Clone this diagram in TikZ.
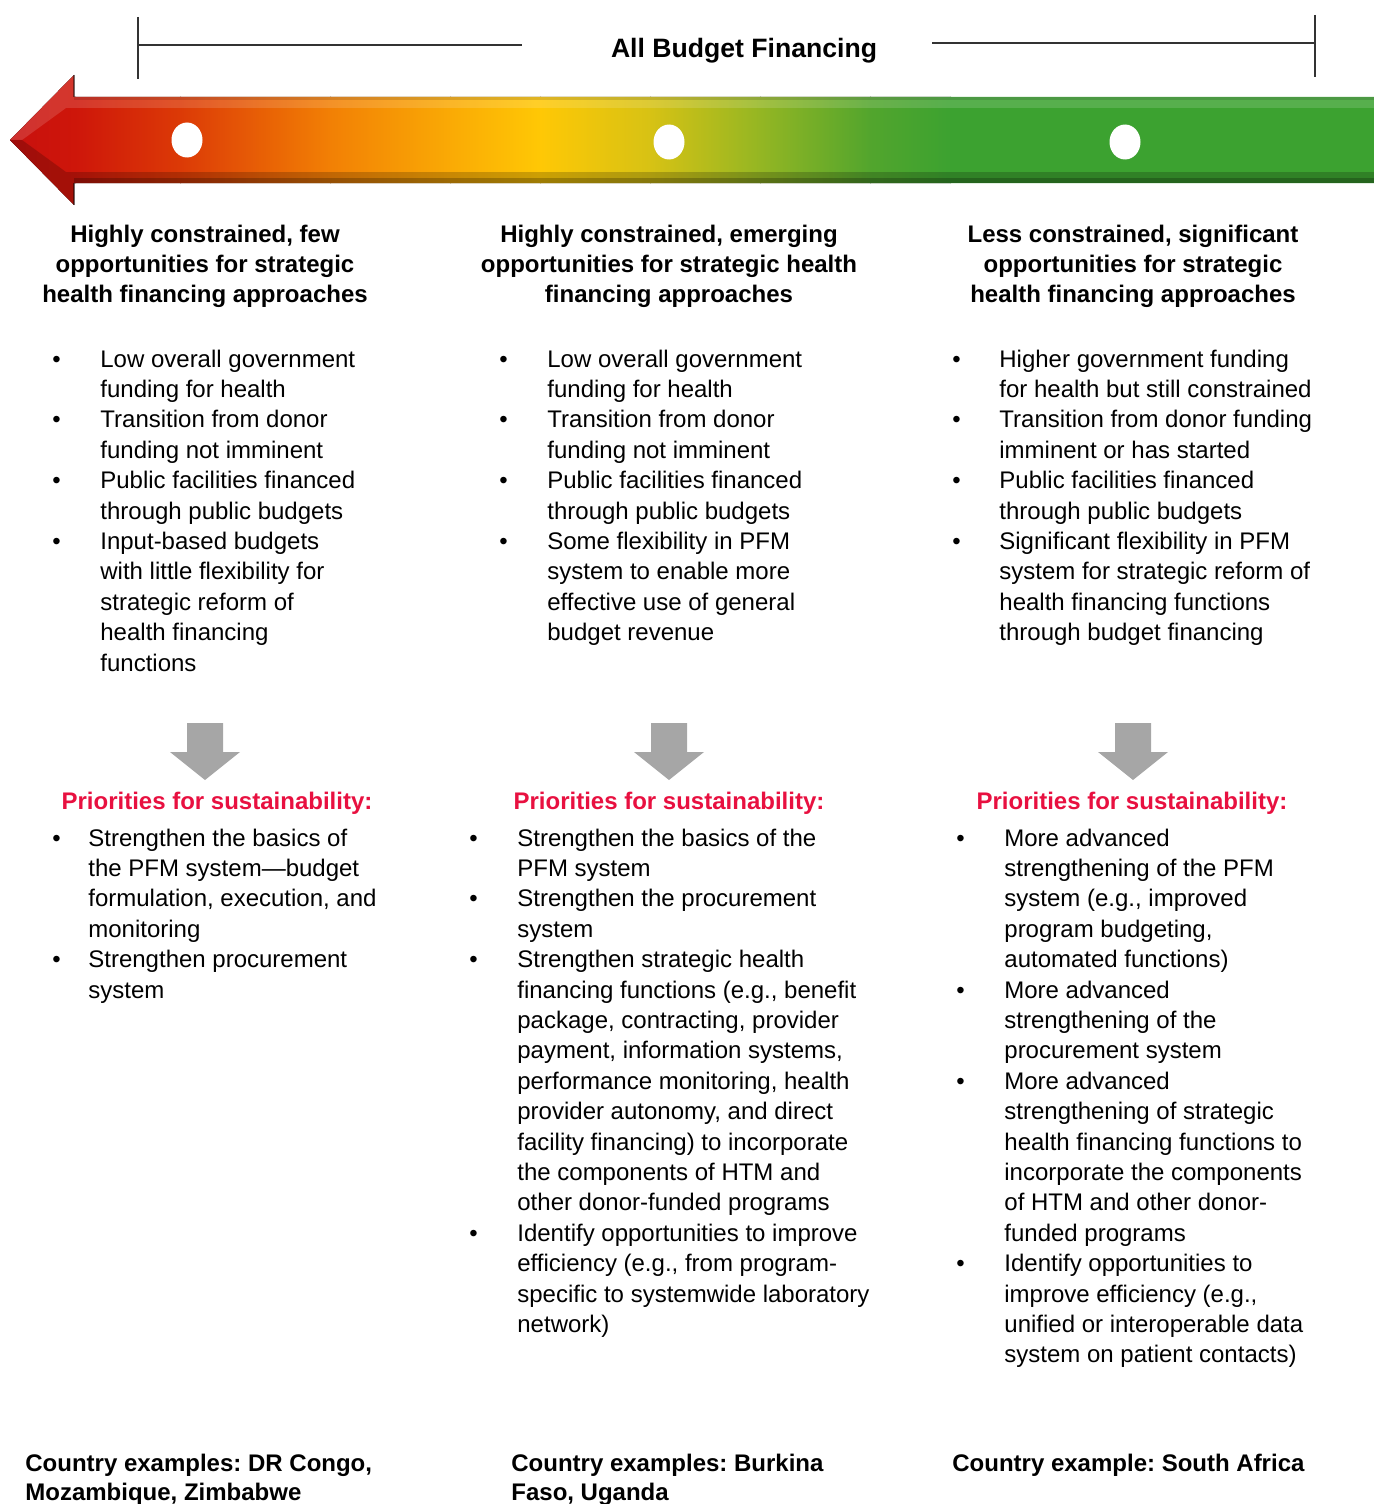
\documentclass[tikz,border=0pt]{standalone}
\usepackage{fontspec}
\setmainfont{Liberation Sans}
\usepackage{array}

% colours of the shaded arrow, left (red) to right (green)
\definecolor{c0}{RGB}{200,16,14}
\definecolor{c1}{RGB}{206,22,10}
\definecolor{c2}{RGB}{220,58,6}
\definecolor{c3}{RGB}{242,128,5}
\definecolor{c4}{RGB}{250,170,5}
\definecolor{c5}{RGB}{255,200,5}
\definecolor{c6}{RGB}{215,194,20}
\definecolor{c7}{RGB}{148,182,35}
\definecolor{c8}{RGB}{82,165,45}
\definecolor{c9}{RGB}{60,162,48}
\definecolor{prired}{RGB}{232,16,64}
\definecolor{arrgray}{RGB}{166,166,166}

\newcommand{\bl}{\textbullet}
\newcommand{\ctext}[1]{\begin{tabular}[t]{@{}c@{}}#1\end{tabular}}
\newcommand{\ltext}[1]{\begin{tabular}[t]{@{}l@{}}#1\end{tabular}}
\newcommand{\blist}[2]{\begin{tabular}[t]{@{}p{#1}@{}l@{}}#2\end{tabular}}

\tikzset{
  head/.style={anchor=base, inner sep=0pt, font=\fontsize{12}{15.2}\selectfont\bfseries},
  prio/.style={head, text=prired},
  items/.style={anchor=base west, inner sep=0pt, font=\fontsize{12}{15.2}\selectfont},
  country/.style={items, font=\fontsize{12}{14.5}\selectfont\bfseries},
  bracket/.style={line width=0.75pt, black!80},
  downarrow/.style={fill=arrgray},
  dot/.style={fill=white},
}

\begin{document}
\frenchspacing
\begin{tikzpicture}[x=0.5pt, y=-0.5pt]
\useasboundingbox (0,0) rectangle (1374,1504);

% Title and bracket
\node[font=\fontsize{13.3}{16}\selectfont\bfseries, anchor=base, inner sep=0pt] (title) at (744,58) {All Budget Financing};
\coordinate (ltop) at (138,17);
\coordinate (lbot) at (138,79);
\coordinate (lbar) at (139,45);
\coordinate (lgap) at (522,45);
\coordinate (rgap) at (932,43);
\coordinate (rbar) at (1315,43);
\coordinate (rtop) at (1315,15);
\coordinate (rbot) at (1315,77);
\draw[bracket] (ltop) -- (lbot);
\draw[bracket] (lbar) -- (lgap);
\draw[bracket] (rgap) -- (rbar);
\draw[bracket] (rtop) -- (rbot);

% Big arrow, shaded in pieces
\begin{scope}
\clip (10,140) -- (74,75) -- (74,97) -- (1374,97) -- (1374,183) -- (74,183) -- (74,205) -- cycle;
\fill[left color=c0, right color=c1] (9,70) rectangle (76,210);
\fill[left color=c1, right color=c2] (75,70) rectangle (181,210);
\fill[left color=c2, right color=c3] (180,70) rectangle (331,210);
\fill[left color=c3, right color=c4] (330,70) rectangle (451,210);
\fill[left color=c4, right color=c5] (450,70) rectangle (541,210);
\fill[left color=c5, right color=c6] (540,70) rectangle (651,210);
\fill[left color=c6, right color=c7] (650,70) rectangle (761,210);
\fill[left color=c7, right color=c8] (760,70) rectangle (871,210);
\fill[left color=c8, right color=c9] (870,70) rectangle (951,210);
\fill[c9] (950,70) rectangle (1375,210);
\end{scope}

% Bevel: light upper edge, dark lower edge
\fill[white, opacity=.14] (10,140) -- (74,75) -- (74,97) -- (1374,97) -- (1374,108) -- (66,108) -- (22,140) -- cycle;
\fill[black, opacity=.12] (74,97) -- (1374,97) -- (1374,100) -- (74,100) -- cycle;
\fill[black, opacity=.2] (10,140) -- (74,205) -- (74,183) -- (1374,183) -- (1374,172) -- (66,172) -- (22,140) -- cycle;
\fill[black, opacity=.22] (74,178) -- (1374,178) -- (1374,183) -- (74,183) -- cycle;
\draw[black, opacity=.45, line width=1pt] (74,75) -- (74,97);
\draw[black, opacity=.45, line width=1pt] (74,183) -- (74,205);

% Dots on the arrow
\fill[dot] (187,140) ellipse (7.75pt and 8.75pt);
\fill[dot] (669,142) ellipse (7.75pt and 8.75pt);
\fill[dot] (1125,142) ellipse (7.75pt and 8.75pt);

% Column headers
\node[head] (h1) at (205,242) {\ctext{Highly constrained, few\\opportunities for strategic\\health financing approaches}};
\node[head] (h2) at (669,242) {\ctext{Highly constrained, emerging\\opportunities for strategic health\\financing approaches}};
\node[head] (h3) at (1133,242) {\ctext{Less constrained, significant\\opportunities for strategic\\health financing approaches}};

% Situation lists
\node[items] (s1) at (52,367) {\blist{24pt}{%
\bl & Low overall government\\
    & funding for health\\
\bl & Transition from donor\\
    & funding not imminent\\
\bl & Public facilities financed\\
    & through public budgets\\
\bl & Input-based budgets\\
    & with little flexibility for\\
    & strategic reform of\\
    & health financing\\
    & functions}};
\node[items] (s2) at (499,367) {\blist{24pt}{%
\bl & Low overall government\\
    & funding for health\\
\bl & Transition from donor\\
    & funding not imminent\\
\bl & Public facilities financed\\
    & through public budgets\\
\bl & Some flexibility in PFM\\
    & system to enable more\\
    & effective use of general\\
    & budget revenue}};
\node[items] (s3) at (952,367) {\blist{23.5pt}{%
\bl & Higher government funding\\
    & for health but still constrained\\
\bl & Transition from donor funding\\
    & imminent or has started\\
\bl & Public facilities financed\\
    & through public budgets\\
\bl & Significant flexibility in PFM\\
    & system for strategic reform of\\
    & health financing functions\\
    & through budget financing}};

% Grey down arrows
\fill[downarrow] (187,723) -- (223,723) -- (223,752) -- (240,752) -- (205,780) -- (170,752) -- (187,752) -- cycle;
\fill[downarrow] (651,723) -- (687,723) -- (687,752) -- (704,752) -- (669,780) -- (634,752) -- (651,752) -- cycle;
\fill[downarrow] (1115,723) -- (1151,723) -- (1151,752) -- (1168,752) -- (1133,780) -- (1098,752) -- (1115,752) -- cycle;

% Priorities
\node[prio] (p1) at (217,809) {Priorities for sustainability:};
\node[prio] (p2) at (669,809) {Priorities for sustainability:};
\node[prio] (p3) at (1132,809) {Priorities for sustainability:};

\node[items] (q1) at (52,846) {\blist{18pt}{%
\bl & Strengthen the basics of\\
    & the PFM system—budget\\
    & formulation, execution, and\\
    & monitoring\\
\bl & Strengthen procurement\\
    & system}};
\node[items] (q2) at (469,846) {\blist{24pt}{%
\bl & Strengthen the basics of the\\
    & PFM system\\
\bl & Strengthen the procurement\\
    & system\\
\bl & Strengthen strategic health\\
    & financing functions (e.g., benefit\\
    & package, contracting, provider\\
    & payment, information systems,\\
    & performance monitoring, health\\
    & provider autonomy, and direct\\
    & facility financing) to incorporate\\
    & the components of HTM and\\
    & other donor-funded programs\\
\bl & Identify opportunities to improve\\
    & efficiency (e.g., from program-\\
    & specific to systemwide laboratory\\
    & network)}};
\node[items] (q3) at (956,846) {\blist{24pt}{%
\bl & More advanced\\
    & strengthening of the PFM\\
    & system (e.g., improved\\
    & program budgeting,\\
    & automated functions)\\
\bl & More advanced\\
    & strengthening of the\\
    & procurement system\\
\bl & More advanced\\
    & strengthening of strategic\\
    & health financing functions to\\
    & incorporate the components\\
    & of HTM and other donor-\\
    & funded programs\\
\bl & Identify opportunities to\\
    & improve efficiency (e.g.,\\
    & unified or interoperable data\\
    & system on patient contacts)}};

% Country examples
\node[country] (e1) at (25,1471) {\ltext{Country examples: DR Congo,\\Mozambique, Zimbabwe}};
\node[country] (e2) at (511,1471) {\ltext{Country examples: Burkina\\Faso, Uganda}};
\node[country] (e3) at (952,1471) {\ltext{Country example: South Africa}};

\end{tikzpicture}
\end{document}
